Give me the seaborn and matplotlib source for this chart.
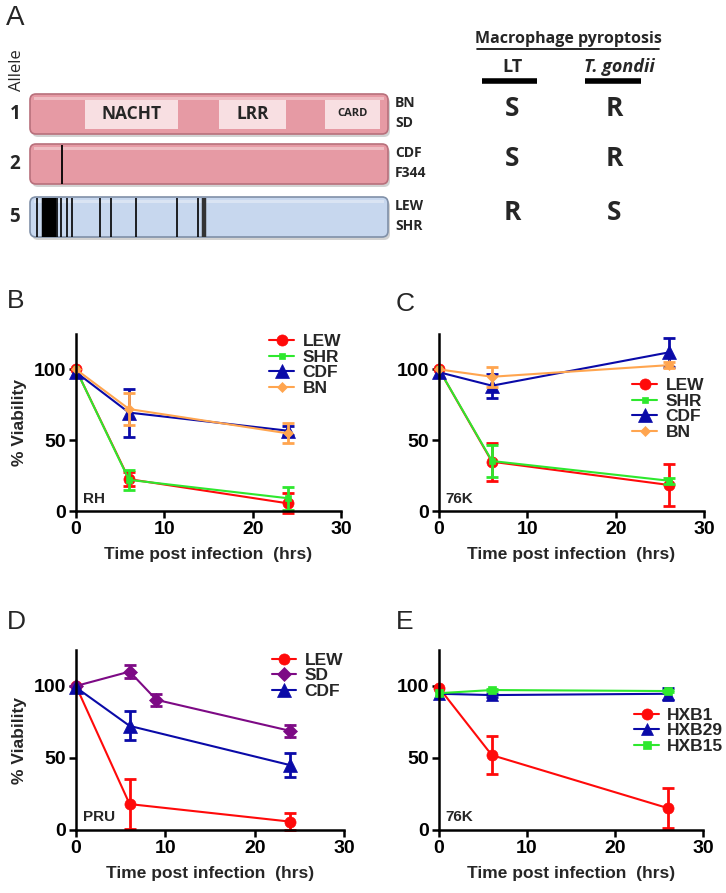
import numpy as np
import matplotlib
matplotlib.use("Agg")
import matplotlib.pyplot as plt
import seaborn as sns
from matplotlib.patches import FancyBboxPatch, Rectangle

sns.set_theme(style="ticks")
plt.rcParams['font.family'] = ['Liberation Sans', 'DejaVu Sans']

# ---- panel A: Nlrp1 alleles (positions in % of protein length)
alleles = ['1', '2', '5']
allele_strains = [['BN', 'SD'], ['CDF', 'F344'], ['LEW', 'SHR']]
lt_response = ['S', 'S', 'R']
tg_response = ['R', 'R', 'S']
domain_names = ['NACHT', 'LRR', 'CARD']
domain_start = [15.4, 52.8, 82.4]
domain_end = [41.3, 71.5, 97.8]
allele2_snps = [8.9]
allele5_snps = [2.0, 3.8, 4.3, 4.8, 5.3, 5.8, 6.3, 6.8, 7.5, 8.7, 10.3, 11.7,
                19.6, 22.6, 29.6, 41.1, 46.9, 48.6]

# ---- panel B: RH
b_time = [0, 6, 24]
b_lew = [100, 22.5, 5.4]
b_lew_sd = [0, 5, 7]
b_shr = [100, 22, 9]
b_shr_sd = [0, 7, 8]
b_cdf = [98, 69.5, 56.7]
b_cdf_sd = [0, 17, 3]
b_bn = [100, 72, 54.8]
b_bn_sd = [0, 11, 7]

# ---- panel C: 76K
c_time = [0, 6, 26]
c_lew = [100, 34.8, 18.4]
c_lew_sd = [0, 13.5, 15]
c_shr = [100, 35.3, 21.4]
c_shr_sd = [0, 11, 2]
c_cdf = [98, 88.5, 112]
c_cdf_sd = [0, 8.5, 10]
c_bn = [100, 94.8, 103]
c_bn_sd = [0, 7, 2]

# ---- panel D: PRU
d_time = [0, 6, 24]
d_sd_time = [0, 6, 9, 24]
d_lew = [100, 18, 5.8]
d_lew_sd = [0, 17.5, 6]
d_sdrat = [100, 110, 90.4, 68.8]
d_sdrat_sd = [0, 4.3, 4, 4]
d_cdf = [99, 72.3, 45]
d_cdf_sd = [0, 10, 8.5]

# ---- panel E: 76K, HXB strains
e_time = [0, 6, 26]
e_hxb1 = [98.8, 52, 15.2]
e_hxb1_sd = [0, 13, 14]
e_hxb29 = [94.6, 93.7, 94.6]
e_hxb29_sd = [0, 1, 4]
e_hxb15 = [95, 97.2, 96.5]
e_hxb15_sd = [0, 1, 1]

RED = '#ff0a0a'
GREEN = '#2ee82e'
BLUE = '#0a0aa8'
ORANGE = '#ffa54f'
PURPLE = '#7d0a85'

W, H = 726, 893
fig = plt.figure(figsize=(W / 100, H / 100), dpi=100)


def fx(x):
    return x / W


def fy(y):
    return 1 - y / H


# ================= panel A =================
axA = fig.add_axes([0, fy(245), 1, 245 / H])
axA.set_xlim(0, W)
axA.set_ylim(245, 0)
axA.axis('off')

bar_x0, bar_x1 = 30, 388
row_top = [94, 144, 197]
bar_h = 40
fontA = ['Open Sans', 'DejaVu Sans']


def px(p):
    return bar_x0 + p / 100 * (bar_x1 - bar_x0)


fills = ['#e69aa4', '#e69aa4', '#c7d7ee']
edges = ['#b8707c', '#b8707c', '#8090a8']
for i, top in enumerate(row_top):
    axA.add_patch(FancyBboxPatch((bar_x0 + 2, top + 3), bar_x1 - bar_x0, bar_h,
                                 boxstyle="round,pad=0,rounding_size=6",
                                 fc='#b5b5b5', ec='none', alpha=0.6, zorder=1))
    axA.add_patch(FancyBboxPatch((bar_x0, top), bar_x1 - bar_x0, bar_h,
                                 boxstyle="round,pad=0,rounding_size=6",
                                 fc=fills[i], ec=edges[i], lw=1.2, zorder=2))
    axA.add_patch(Rectangle((bar_x0 + 4, top + 3), bar_x1 - bar_x0 - 8, 3,
                            fc='white', ec='none', alpha=0.35, zorder=3))
    axA.text(15, top + bar_h / 2, alleles[i], ha='center', va='center',
             fontsize=13.5, fontweight='bold', family=fontA)
    axA.text(395, top + 9, allele_strains[i][0], ha='left', va='center',
             fontsize=10, fontweight='bold', family=fontA)
    axA.text(395, top + 29, allele_strains[i][1], ha='left', va='center',
             fontsize=10, fontweight='bold', family=fontA)
    axA.text(512, top + 15, lt_response[i], ha='center', va='center',
             fontsize=19, fontweight='bold', family=fontA)
    axA.text(614, top + 15, tg_response[i], ha='center', va='center',
             fontsize=19, fontweight='bold', family=fontA)

for name, s, e in zip(domain_names, domain_start, domain_end):
    axA.add_patch(Rectangle((px(s), row_top[0] + 6), px(e) - px(s), bar_h - 11,
                            fc='#f8dfe2', ec='none', zorder=4))
    axA.text((px(s) + px(e)) / 2, row_top[0] + bar_h / 2, name,
             ha='center', va='center', fontweight='bold', family=fontA,
             fontsize=8 if name == 'CARD' else 12.5, zorder=5)

for s in allele2_snps:
    axA.vlines(px(s), row_top[1] + 1, row_top[1] + bar_h, color='black', lw=1.3, zorder=5)
for k, s in enumerate(allele5_snps):
    block = 3.5 < s < 7.0
    last = k == len(allele5_snps) - 1
    axA.vlines(px(s), row_top[2] + 1, row_top[2] + bar_h,
               color='#333333' if last else 'black',
               lw=3.2 if (block or last) else 1.2, zorder=5)

axA.text(17, 70, 'Allele', rotation=90, ha='center', va='center',
         fontsize=12, family=fontA)
axA.text(15, 18, 'A', ha='center', va='center', fontsize=20)

axA.text(568, 39, 'Macrophage pyroptosis', ha='center', va='center',
         fontsize=11.5, fontweight='bold', family=fontA)
axA.plot([477, 659], [49, 49], color='black', lw=1.2)
axA.text(512, 67, 'LT', ha='center', va='center', fontsize=13,
         fontweight='bold', family=fontA)
axA.text(619, 67, 'T. gondii', ha='center', va='center', fontsize=13,
         fontweight='bold', style='italic', family=fontA)
axA.plot([482, 537], [81, 81], color='black', lw=4, solid_capstyle='butt')
axA.plot([585, 641], [81, 81], color='black', lw=4, solid_capstyle='butt')


# ================= viability panels =================
def draw_series(ax, t, y, sd, color, marker, ms, label):
    sns.lineplot(x=t, y=y, ax=ax, color=color, marker=marker, markersize=ms,
                 markeredgecolor=color, markeredgewidth=0.5, linewidth=1.5,
                 label=label, clip_on=False, errorbar=None)
    tt = [a for a, s in zip(t, sd) if s > 0]
    yy = [a for a, s in zip(y, sd) if s > 0]
    ss = [s for s in sd if s > 0]
    ax.errorbar(tt, yy, yerr=ss, fmt='none', ecolor=color, elinewidth=2,
                capsize=4.5, capthick=2, clip_on=False)


def style_axes(ax, tag, leg_xy, ylabel):
    ax.set_xlim(0, 30)
    ax.set_ylim(0, 125)
    ax.set_xticks([0, 10, 20, 30])
    ax.set_yticks([0, 50, 100])
    sns.despine(ax=ax)
    for sp in ['left', 'bottom']:
        ax.spines[sp].set_linewidth(1.8)
        ax.spines[sp].set_color('black')
    ax.tick_params(width=1.8, length=5, labelsize=14, pad=2, colors='black')
    for lab in ax.get_xticklabels() + ax.get_yticklabels():
        lab.set_fontweight('bold')
    ax.set_xlabel('Time post infection  (hrs)', fontsize=12.5,
                  fontweight='bold', labelpad=7)
    if ylabel:
        ax.set_ylabel('% Viability', fontsize=12.5, fontweight='bold', labelpad=5)
    else:
        ax.set_ylabel('')
    ax.text(0.025, 0.07, tag, transform=ax.transAxes, fontsize=11,
            fontweight='bold', ha='left', va='center')
    ax.legend(loc='upper left', bbox_to_anchor=leg_xy, frameon=False,
              prop={'weight': 'bold', 'size': 12.5}, handlelength=1.4,
              handletextpad=0.5, labelspacing=0.02, borderpad=0,
              borderaxespad=0)
    ax.set_facecolor('white')


axB = fig.add_axes([fx(76), fy(511), 265 / W, 177 / H])
draw_series(axB, b_time, b_lew, b_lew_sd, RED, 'o', 8, 'LEW')
draw_series(axB, b_time, b_shr, b_shr_sd, GREEN, 's', 5, 'SHR')
draw_series(axB, b_time, b_cdf, b_cdf_sd, BLUE, '^', 10, 'CDF')
draw_series(axB, b_time, b_bn, b_bn_sd, ORANGE, 'D', 5, 'BN')
style_axes(axB, 'RH', (0.73, 1.0), True)

axC = fig.add_axes([fx(439), fy(511), 265 / W, 177 / H])
draw_series(axC, c_time, c_lew, c_lew_sd, RED, 'o', 8, 'LEW')
draw_series(axC, c_time, c_shr, c_shr_sd, GREEN, 's', 5, 'SHR')
draw_series(axC, c_time, c_cdf, c_cdf_sd, BLUE, '^', 10, 'CDF')
draw_series(axC, c_time, c_bn, c_bn_sd, ORANGE, 'D', 5, 'BN')
style_axes(axC, '76K', (0.73, 0.75), False)

axD = fig.add_axes([fx(76), fy(830), 268 / W, 180 / H])
draw_series(axD, d_time, d_lew, d_lew_sd, RED, 'o', 8, 'LEW')
draw_series(axD, d_sd_time, d_sdrat, d_sdrat_sd, PURPLE, 'D', 7, 'SD')
draw_series(axD, d_time, d_cdf, d_cdf_sd, BLUE, '^', 10, 'CDF')
style_axes(axD, 'PRU', (0.73, 0.985), True)

axE = fig.add_axes([fx(439), fy(830), 264 / W, 180 / H])
draw_series(axE, e_time, e_hxb1, e_hxb1_sd, RED, 'o', 8, 'HXB1')
draw_series(axE, e_time, e_hxb29, e_hxb29_sd, BLUE, '^', 9, 'HXB29')
draw_series(axE, e_time, e_hxb15, e_hxb15_sd, GREEN, 's', 6, 'HXB15')
style_axes(axE, '76K', (0.74, 0.68), False)

for letter, x, y in [('B', 16, 301), ('C', 405, 304), ('D', 16, 622), ('E', 405, 622)]:
    fig.text(fx(x), fy(y), letter, ha='center', va='center', fontsize=19)

fig.savefig('out.png', dpi=100)
